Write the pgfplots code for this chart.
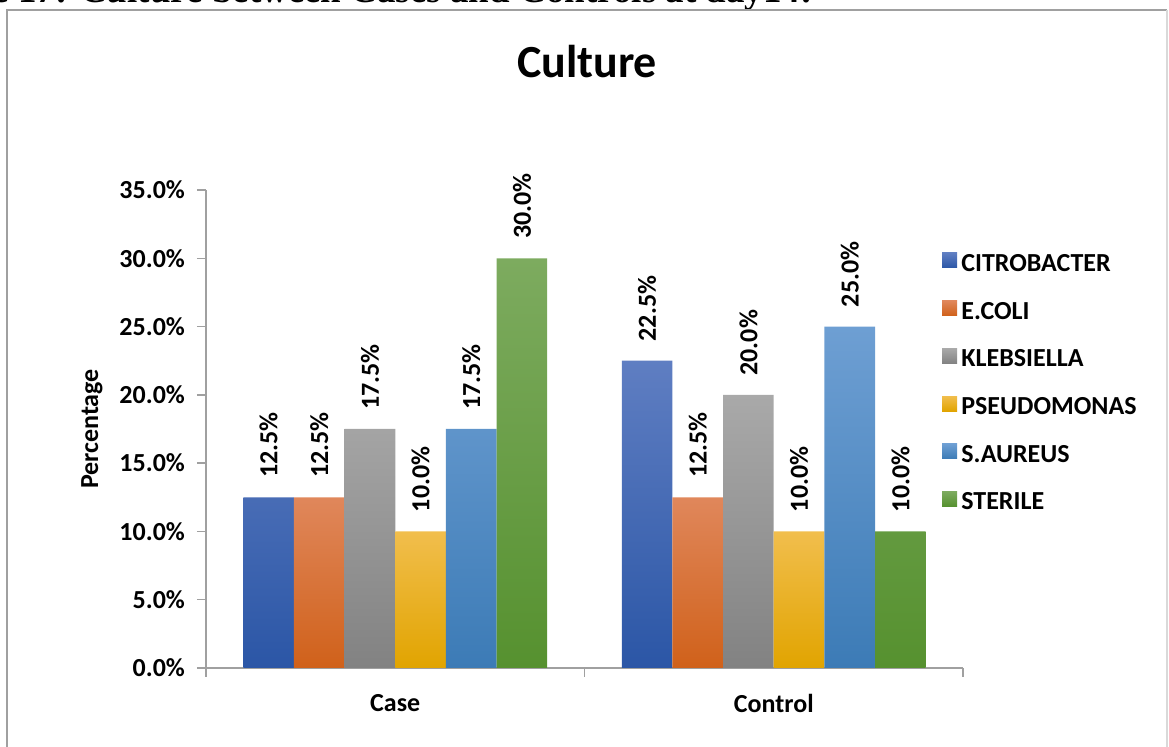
\documentclass[border=0pt]{standalone}
\usepackage{pgfplots}
\pgfplotsset{compat=1.18}
\usepackage{fontspec}
\setmainfont{Carlito}
\newfontfamily\capfont{Liberation Serif}

\definecolor{axisgray}{HTML}{A0A0A0}
\definecolor{citroT}{HTML}{5F7EC2}\definecolor{citroB}{HTML}{2B56A6}
\definecolor{ecoliT}{HTML}{E0875B}\definecolor{ecoliB}{HTML}{D0611A}
\definecolor{klebT}{HTML}{A9A9A9}\definecolor{klebB}{HTML}{828282}
\definecolor{pseudoT}{HTML}{F1BE4D}\definecolor{pseudoB}{HTML}{E1A400}
\definecolor{saurT}{HTML}{6E9FD3}\definecolor{saurB}{HTML}{3C7BB6}
\definecolor{sterT}{HTML}{7DAB5F}\definecolor{sterB}{HTML}{56912F}

\newcommand{\lblfont}{\bfseries\fontsize{13}{15}\selectfont}

\begin{document}
\begin{tikzpicture}
\useasboundingbox (0,0) rectangle (584.5pt,373.5pt);

% caption line of the surrounding page, cut by the top edge
\node[anchor=base east, inner sep=0pt, font=\capfont\bfseries\fontsize{18.5}{20}\selectfont]
  at (406.5pt,372pt) {Figure 17: Culture between Cases and Controls at day14:};

% chart frame
\draw[axisgray, line width=0.9pt] (3.5pt,-5pt) -- (3.5pt,368.5pt) -- (583.5pt,368.5pt);
\draw[gray!30, line width=0.9pt] (583.5pt,368.5pt) -- (583.5pt,-5pt);

% title
\node[anchor=base, inner sep=0pt, font=\bfseries\fontsize{23}{27}\selectfont]
  at (293.5pt,334.5pt) {Culture};

\begin{axis}[
  at={(103pt,39.5pt)}, anchor=south west,
  scale only axis, width=378.5pt, height=239pt,
  xmin=-0.5, xmax=1.5, ymin=0, ymax=35,
  axis x line*=bottom, axis y line*=left,
  axis line style={draw=axisgray, line width=0.75pt},
  tick style={draw=axisgray, line width=0.75pt},
  tick align=outside, major tick length=4.5pt,
  xtick={-0.5,0.5,1.5}, x tick label as interval,
  xticklabels={Case,Control},
  xticklabel style={yshift=-5pt},
  ytick={0,5,...,35},
  yticklabel={\pgfmathprintnumber[fixed,fixed zerofill,precision=1,assume math mode=true]{\tick}\%},
  yticklabel style={xshift=-2.5pt},
  tick label style={font=\lblfont},
  ylabel={Percentage},
  ylabel style={font=\lblfont, at={(axis description cs:-0.1506,0.5)}, anchor=center, rotate=0},
  ybar=0pt, bar width=25.33pt,
  every axis plot post/.append style={draw=none,
    legend image code/.code={\path[##1] (0pt,-2.5pt) rectangle (7.5pt,5pt);}},
  nodes near coords={\textbf{\pgfmathprintnumber[fixed,fixed zerofill,precision=1,assume math mode=true]{\pgfplotspointmeta}\%}},
  nodes near coords style={font=\lblfont, text=black, rotate=90, anchor=west, inner xsep=9.5pt},
  legend style={draw=none, fill=none, inner sep=0pt, outer sep=0pt,
    at={(axis description cs:0.9723,0.8682)}, anchor=north west,
    font=\lblfont, row sep=14.65pt,
    nodes={inner sep=0pt, text height=8.4pt, text depth=0pt}},
  legend cell align=left,
]
\addplot[top color=citroT, bottom color=citroB] coordinates {(0,12.5) (1,22.5)};
\addplot[top color=ecoliT, bottom color=ecoliB] coordinates {(0,12.5) (1,12.5)};
\addplot[top color=klebT, bottom color=klebB] coordinates {(0,17.5) (1,20.0)};
\addplot[top color=pseudoT, bottom color=pseudoB] coordinates {(0,10.0) (1,10.0)};
\addplot[top color=saurT, bottom color=saurB] coordinates {(0,17.5) (1,25.0)};
\addplot[top color=sterT, bottom color=sterB] coordinates {(0,30.0) (1,10.0)};
\legend{\,CITROBACTER,\,E.COLI,\,KLEBSIELLA,\,PSEUDOMONAS,\,S.AUREUS,\,STERILE}
\end{axis}
\end{tikzpicture}
\end{document}
